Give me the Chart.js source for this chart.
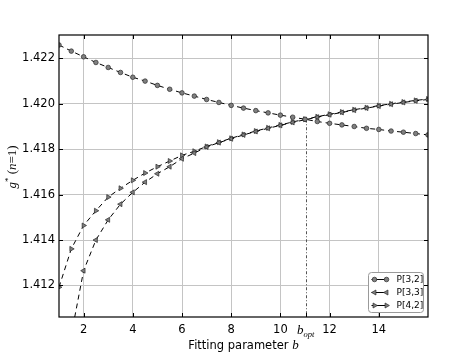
<!DOCTYPE html>
<html lang="en">
<head>
<meta charset="UTF-8">
<title>Fitting parameter b</title>
<script src="https://cdn.jsdelivr.net/npm/chart.js"></script>
<style>
  html, body { margin: 0; padding: 0; background: #fff; }
</style>
</head>
<body>
<canvas id="myChart" width="475" height="353"></canvas>
<script>
// Fitting parameter b (x axis), step 0.5
const bValues = [1, 1.5, 2, 2.5, 3, 3.5, 4, 4.5, 5, 5.5, 6, 6.5, 7, 7.5, 8, 8.5,
                 9, 9.5, 10, 10.5, 11, 11.5, 12, 12.5, 13, 13.5, 14, 14.5, 15, 15.5, 16];

// g*(n=1)
const p32 = [1.42259, 1.42232, 1.42207, 1.42182, 1.42160, 1.42138, 1.42117, 1.42100,
             1.42081, 1.42064, 1.42048, 1.42034, 1.42019, 1.42006, 1.41993, 1.41981,
             1.41970, 1.41960, 1.41950, 1.41941, 1.41932, 1.41922, 1.41914, 1.41907,
             1.41900, 1.41892, 1.41887, 1.41880, 1.41875, 1.41869, 1.41863];
const p33 = [null, 1.40982, 1.41265, 1.41400, 1.41489, 1.41558, 1.41610, 1.41655,
             1.41692, 1.41723, 1.41758, 1.41783, 1.41810, 1.41829, 1.41846, 1.41863,
             1.41878, 1.41892, 1.41905, 1.41918, 1.41930, 1.41941, 1.41952, 1.41962,
             1.41972, 1.41981, 1.41990, 1.41998, 1.42006, 1.42013, 1.42019];
const p42 = [1.41192, 1.41361, 1.41464, 1.41529, 1.41589, 1.41628, 1.41663, 1.41695,
             1.41723, 1.41748, 1.41773, 1.41791, 1.41812, 1.41831, 1.41848, 1.41865,
             1.41880, 1.41894, 1.41907, 1.41920, 1.41932, 1.41943, 1.41954, 1.41964,
             1.41974, 1.41983, 1.41992, 1.42000, 1.42008, 1.42015, 1.42021];

// optimum b (crossing point)
const bOpt = 11.03;
const gOpt = 1.41932;

// ticks
const xTicks = [2, 4, 6, 8, 10, bOpt, 12, 14];
const yTicks = [1.412, 1.414, 1.416, 1.418, 1.420, 1.422];

const seriesNames = ['P[3,2]', 'P[3,3]', 'P[4,2]'];

const sansFont = '"DejaVu Sans", sans-serif';
const mathFont = '"Liberation Serif", "DejaVu Serif", serif';

function toPoints(vals) {
    return bValues.map((b, i) => ({ x: b, y: vals[i] }));
}

const markerStyles = [
    { pointStyle: 'circle', rotation: 0, radius: 2.3 },
    { pointStyle: 'triangle', rotation: -90, radius: 2.9 },
    { pointStyle: 'triangle', rotation: 90, radius: 2.9 }
];

function makeDataset(label, vals, m) {
    return {
        label: label,
        data: toPoints(vals),
        borderColor: '#000',
        borderWidth: 1,
        borderDash: [5, 4],
        pointStyle: m.pointStyle,
        pointRotation: m.rotation,
        pointRadius: m.radius,
        pointBackgroundColor: '#808080',
        pointBorderColor: '#2a2a2a',
        pointBorderWidth: 0.7,
        tension: 0,
        fill: false,
        clip: 0
    };
}

// frame, inner ticks, b_opt line, axis titles and legend
const extras = {
    id: 'extras',
    beforeDatasetsDraw(chart) {
        const { ctx, scales: { x, y }, chartArea: a } = chart;
        ctx.save();
        ctx.strokeStyle = '#555';
        ctx.lineWidth = 1;
        ctx.setLineDash([3, 2, 1, 2]);
        const px = Math.round(x.getPixelForValue(bOpt)) + 0.5;
        ctx.beginPath();
        ctx.moveTo(px, y.getPixelForValue(gOpt));
        ctx.lineTo(px, a.bottom);
        ctx.stroke();
        ctx.restore();
    },
    afterDraw(chart) {
        const { ctx, scales: { x, y }, chartArea: a } = chart;
        ctx.save();

        // inward ticks on all sides
        ctx.strokeStyle = '#000';
        ctx.lineWidth = 1;
        ctx.beginPath();
        xTicks.forEach(v => {
            const px = Math.round(x.getPixelForValue(v)) + 0.5;
            ctx.moveTo(px, a.bottom); ctx.lineTo(px, a.bottom - 4);
            ctx.moveTo(px, a.top); ctx.lineTo(px, a.top + 4);
        });
        yTicks.forEach(v => {
            const py = Math.round(y.getPixelForValue(v)) + 0.5;
            ctx.moveTo(a.left, py); ctx.lineTo(a.left + 4, py);
            ctx.moveTo(a.right, py); ctx.lineTo(a.right - 4, py);
        });
        ctx.stroke();

        // frame
        ctx.lineWidth = 1.2;
        ctx.strokeRect(a.left, a.top, a.right - a.left, a.bottom - a.top);

        // b_opt tick label
        ctx.fillStyle = '#000';
        ctx.textBaseline = 'alphabetic';
        const bx = x.getPixelForValue(bOpt);
        ctx.font = 'italic 13px ' + mathFont;
        const wb = ctx.measureText('b').width;
        ctx.font = 'italic 8.5px ' + mathFont;
        const wo = ctx.measureText('opt').width;
        let sx = bx - (wb + wo) / 2;
        ctx.textAlign = 'left';
        ctx.font = 'italic 13px ' + mathFont;
        ctx.fillText('b', sx, 333.5);
        ctx.font = 'italic 8.5px ' + mathFont;
        ctx.fillText('opt', sx + wb, 336.5);

        // x axis title
        const tx = 'Fitting parameter ';
        ctx.font = '11.5px ' + sansFont;
        const w1 = ctx.measureText(tx).width;
        ctx.font = 'italic 13px ' + mathFont;
        const w2 = ctx.measureText('b').width;
        let x0 = (a.left + a.right) / 2 - (w1 + w2) / 2;
        ctx.font = '11.5px ' + sansFont;
        ctx.fillText(tx, x0, 348.5);
        ctx.font = 'italic 13px ' + mathFont;
        ctx.fillText('b', x0 + w1, 348.5);

        // y axis title: g* (n=1)
        ctx.save();
        ctx.translate(16, 167);
        ctx.rotate(-Math.PI / 2);
        const parts = [
            { t: 'g', f: 'italic 13px ' + mathFont, dy: 0 },
            { t: '*', f: '9px ' + mathFont, dy: -5 },
            { t: ' (', f: '13px ' + mathFont, dy: 0 },
            { t: 'n', f: 'italic 13px ' + mathFont, dy: 0 },
            { t: '=', f: '13px ' + mathFont, dy: 0 },
            { t: '1)', f: '13px ' + mathFont, dy: 0 }
        ];
        let tw = 0;
        parts.forEach(p => { ctx.font = p.f; p.w = ctx.measureText(p.t).width; tw += p.w; });
        let cx = -tw / 2;
        parts.forEach(p => { ctx.font = p.f; ctx.fillText(p.t, cx, p.dy); cx += p.w; });
        ctx.restore();

        // legend (lower right, inside the axes)
        const lx = 368.5, ly = 272.5, lw = 55, lh = 40;
        ctx.fillStyle = '#fff';
        ctx.strokeStyle = '#9a9a9a';
        ctx.lineWidth = 1;
        ctx.beginPath();
        ctx.roundRect(lx, ly, lw, lh, 3);
        ctx.fill();
        ctx.stroke();
        chart.data.datasets.forEach((ds, i) => {
            const ry = ly + 7 + i * 13;
            ctx.strokeStyle = '#000';
            ctx.setLineDash([]);
            ctx.beginPath();
            ctx.moveTo(lx + 3, ry);
            ctx.lineTo(lx + 19, ry);
            ctx.stroke();
            ctx.fillStyle = '#808080';
            ctx.strokeStyle = '#2a2a2a';
            ctx.lineWidth = 0.7;
            const m = markerStyles[i];
            [lx + 6, lx + 18].forEach(mx => {
                Chart.helpers.drawPoint(ctx, {
                    pointStyle: m.pointStyle, rotation: m.rotation,
                    radius: m.radius, borderWidth: 0.7
                }, mx, ry);
            });
            ctx.lineWidth = 1;
            ctx.fillStyle = '#000';
            ctx.font = '9px ' + sansFont;
            ctx.textBaseline = 'middle';
            ctx.fillText(ds.label, lx + 28, ry + 0.5);
        });

        ctx.restore();
    }
};

const ctx = document.getElementById('myChart').getContext('2d');
window.myChart = new Chart(ctx, {
    type: 'line',
    data: {
        datasets: [
            makeDataset(seriesNames[0], p32, markerStyles[0]),
            makeDataset(seriesNames[1], p33, markerStyles[1]),
            makeDataset(seriesNames[2], p42, markerStyles[2])
        ]
    },
    options: {
        responsive: false,
        animation: false,
        layout: { padding: { top: 35, right: 47, left: 0, bottom: 0 } },
        plugins: {
            legend: { display: false },
            tooltip: { enabled: false }
        },
        scales: {
            x: {
                type: 'linear',
                min: 1,
                max: 16,
                afterBuildTicks: s => { s.ticks = xTicks.map(v => ({ value: v })); },
                afterFit: s => { s.height = 36; },
                ticks: {
                    callback: v => (v === bOpt ? '' : String(v)),
                    color: '#000',
                    font: { family: sansFont, size: 11.5 },
                    padding: 6,
                    maxRotation: 0,
                    autoSkip: false
                },
                grid: {
                    color: c => (c.tick && c.tick.value === bOpt ? 'rgba(0,0,0,0)' : '#c4c4c4'),
                    lineWidth: 1,
                    drawTicks: false
                },
                border: { display: false }
            },
            y: {
                type: 'linear',
                min: 1.41061,
                max: 1.42303,
                afterBuildTicks: s => { s.ticks = yTicks.map(v => ({ value: v })); },
                afterFit: s => { s.width = 59; },
                ticks: {
                    callback: v => v.toFixed(3),
                    color: '#000',
                    font: { family: sansFont, size: 11.5 },
                    padding: 4
                },
                grid: {
                    color: '#c4c4c4',
                    lineWidth: 1,
                    drawTicks: false
                },
                border: { display: false }
            }
        }
    },
    plugins: [extras]
});
</script>
</body>
</html>
